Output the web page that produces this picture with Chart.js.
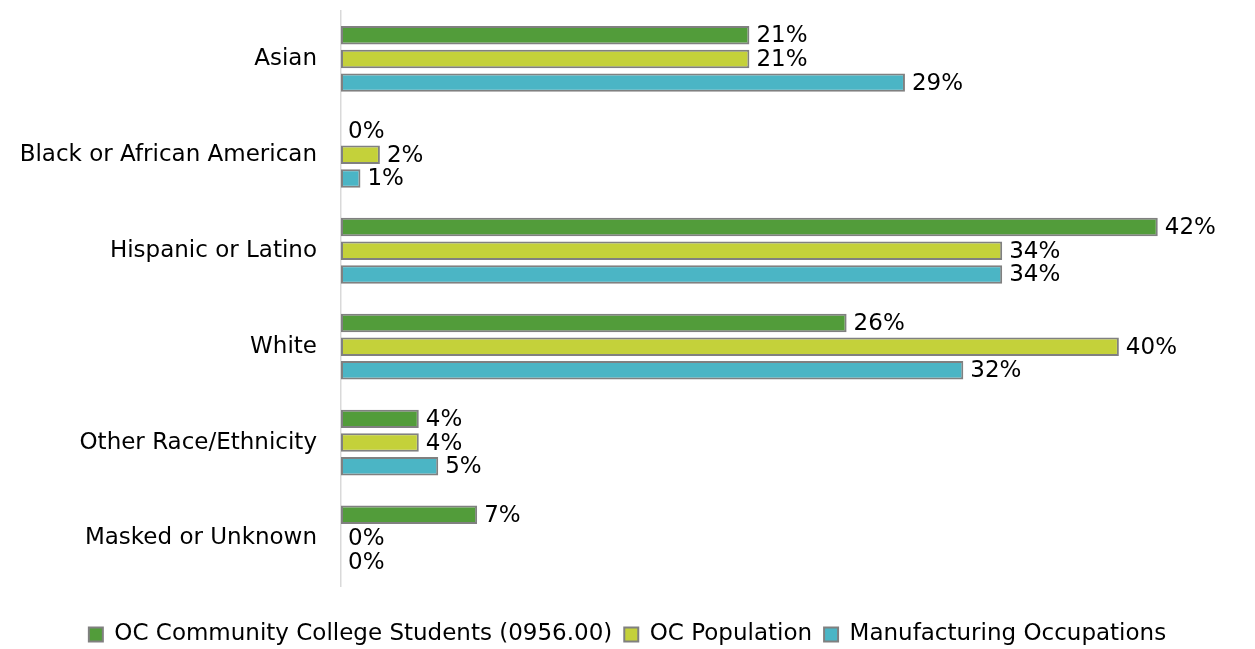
<!DOCTYPE html>
<html>
<head>
<meta charset="utf-8">
<script src="https://cdn.jsdelivr.net/npm/chart.js@4/dist/chart.umd.min.js"></script>
<style>
  html, body { margin: 0; padding: 0; background: #fff; }
  #wrap { width: 1255px; height: 649px; }
</style>
</head>
<body>
<div id="wrap"><canvas id="raceChart"></canvas></div>
<script>
// Race/ethnicity shares, in percent
const categories = ['Asian', 'Black or African American', 'Hispanic or Latino', 'White', 'Other Race/Ethnicity', 'Masked or Unknown'];
const seriesNames = ['OC Community College Students (0956.00)', 'OC Population', 'Manufacturing Occupations'];
const studentsPct = [21, 0, 42, 26, 4, 7];
const populationPct = [21, 2, 34, 40, 4, 0];
const manufacturingPct = [29, 1, 34, 32, 5, 0];

const COLORS = ['#529c3a', '#c4d13a', '#4bb5c5'];
const FONT = 'DejaVu Sans';

// value labels just past the end of each bar
const barLabels = {
  id: 'barLabels',
  afterDatasetsDraw(chart) {
    const { ctx } = chart;
    ctx.save();
    ctx.font = `23px "${FONT}"`;
    ctx.fillStyle = '#000';
    ctx.textBaseline = 'middle';
    ctx.textAlign = 'left';
    chart.data.datasets.forEach((ds, i) => {
      chart.getDatasetMeta(i).data.forEach((bar, j) => {
        ctx.fillText(ds.data[j] + '%', bar.x + 7, bar.y + 1);
      });
    });
    ctx.restore();
  }
};

new Chart(document.getElementById('raceChart'), {
  type: 'bar',
  data: {
    labels: categories,
    datasets: [studentsPct, populationPct, manufacturingPct].map((d, i) => ({
      label: seriesNames[i],
      data: d,
      backgroundColor: COLORS[i],
      borderColor: '#808080',
      borderWidth: 2,
      borderSkipped: false,
      categoryPercentage: 0.74,
      barPercentage: 0.78,
    }))
  },
  options: {
    indexAxis: 'y',
    responsive: true,
    maintainAspectRatio: false,
    animation: false,
    layout: { padding: { top: 11, right: 0, left: 0, bottom: -7 } },
    plugins: {
      legend: {
        position: 'bottom',
        // blank title just opens a gap between the bars and the legend row
        title: { display: true, text: ' ', font: { size: 18 }, padding: { top: 0, bottom: 3 } },
        labels: {
          color: '#000',
          font: { family: FONT, size: 23 },
          boxWidth: 14,
          boxHeight: 14,
          padding: 12,
        }
      },
      tooltip: { enabled: false }
    },
    scales: {
      x: {
        min: 0,
        max: 47,
        display: false,
      },
      y: {
        afterFit: (s) => {
          s.width = 341;
          s.paddingTop = 0;
          s.paddingBottom = 0;
        },
        grid: { display: false, drawTicks: false },
        border: { color: '#d9d9d9', width: 1.5 },
        ticks: { color: '#000', font: { family: FONT, size: 23 }, padding: 24 }
      }
    }
  },
  plugins: [barLabels]
});
</script>
</body>
</html>
